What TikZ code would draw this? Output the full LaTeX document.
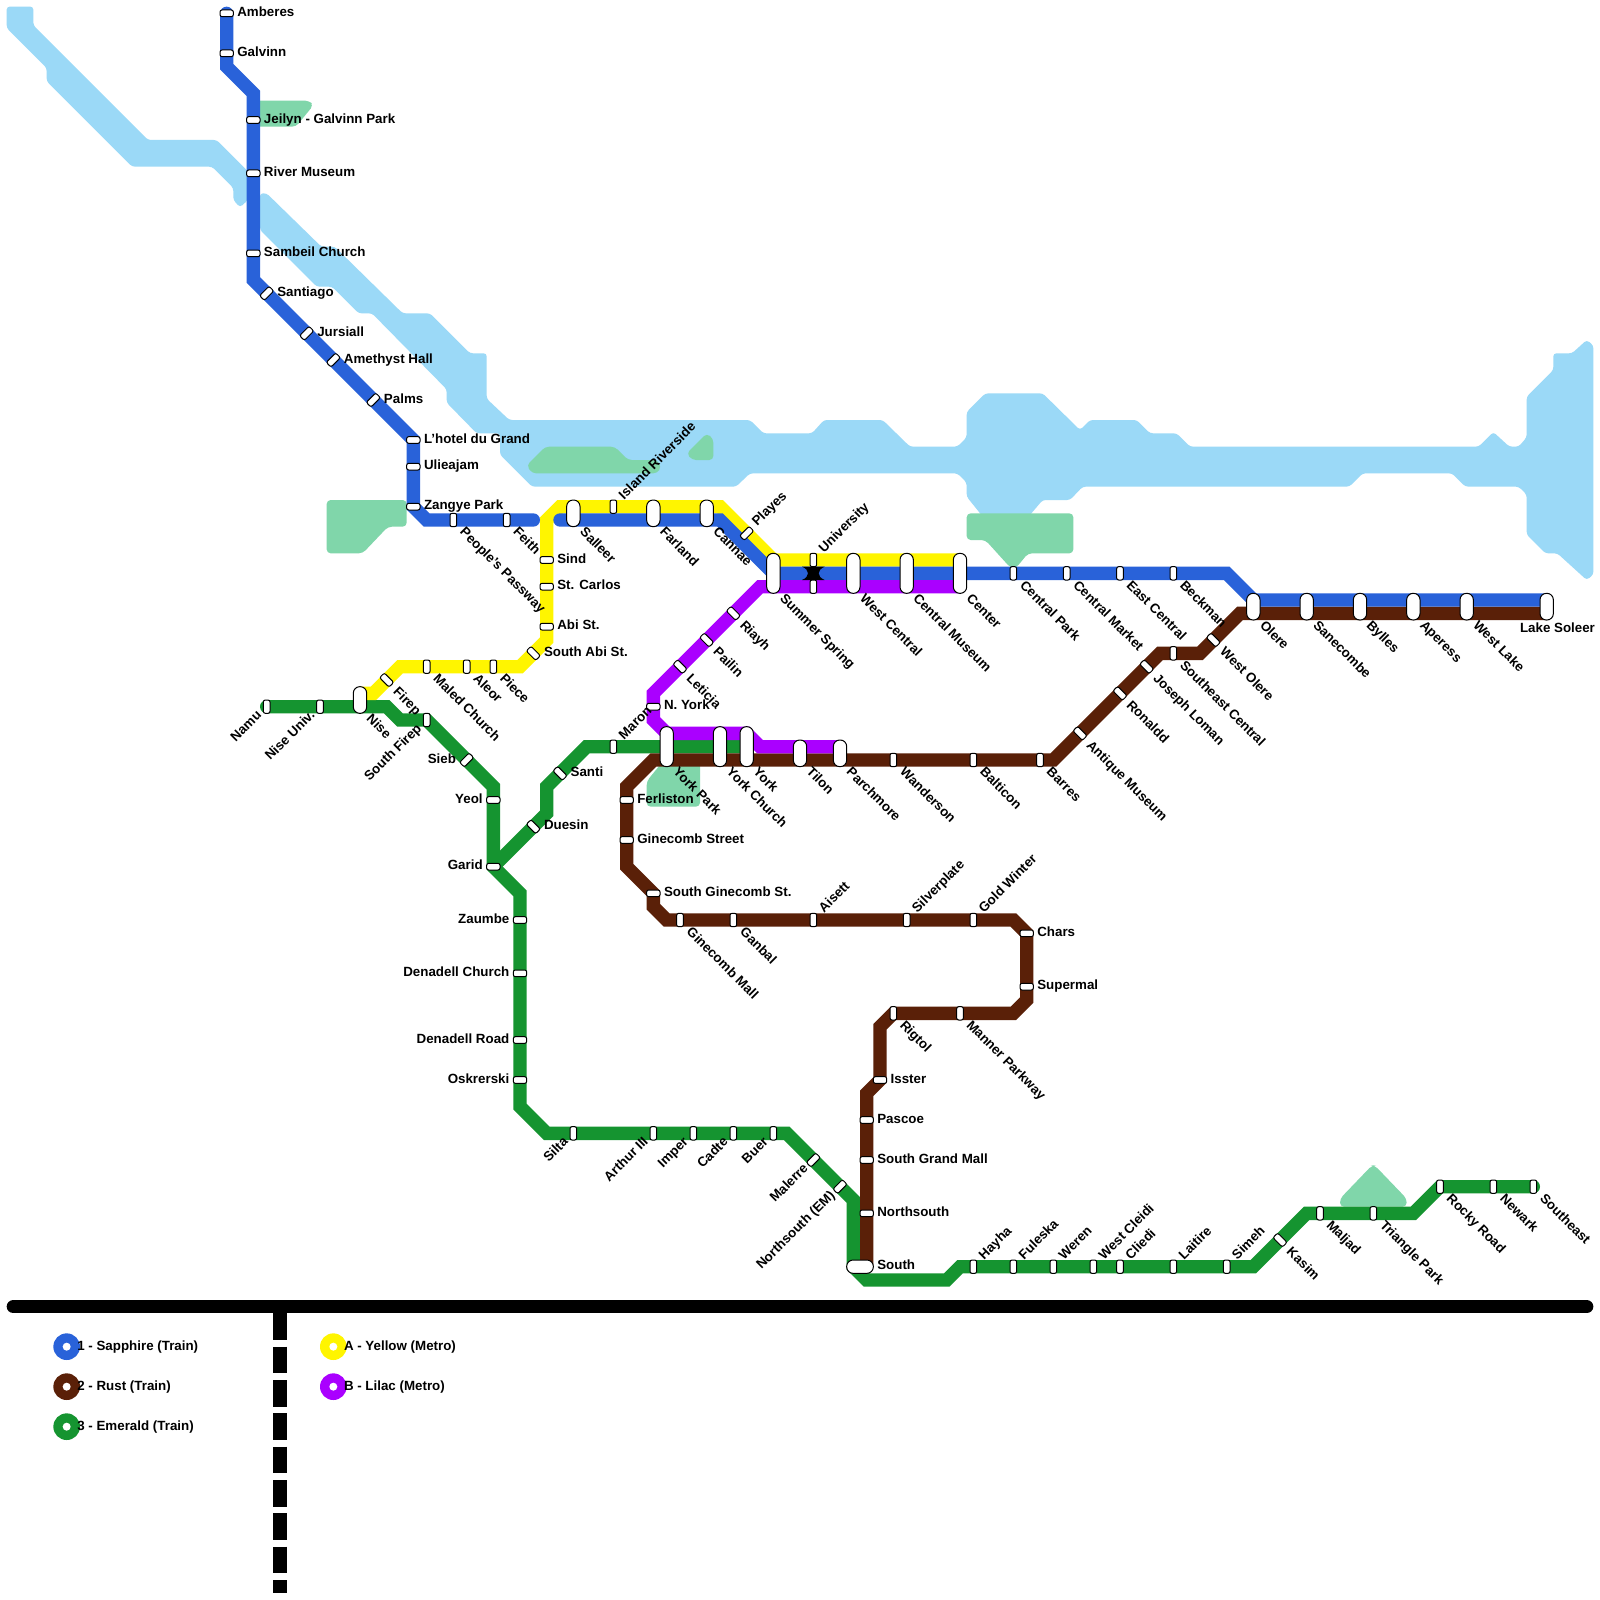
\documentclass[tikz,border=0pt]{standalone}
\usepackage{fontspec}
\setmainfont{Liberation Sans}[BoldFont={Liberation Sans Bold}]
\pgfdeclarelayer{bg}
\pgfsetlayers{bg,main}
\definecolor{cWater}{HTML}{9BD9F7}
\definecolor{cPark}{HTML}{80D6AA}
\definecolor{cBlue}{HTML}{2962D9}
\definecolor{cRust}{HTML}{5A2008}
\definecolor{cEmer}{HTML}{159430}
\definecolor{cYell}{HTML}{FFF500}
\definecolor{cLila}{HTML}{AA00FF}
\tikzset{
  water/.style={fill=cWater,draw=none,rounded corners=1.5pt},
  park/.style={fill=cPark,draw=none,rounded corners=2pt},
  rail/.style={line width=6.667pt,line cap=round,line join=miter},
  stBase/.style={draw=black,fill=white,line width=.5pt,inner sep=0pt,outer sep=0pt,rectangle},
  stH/.style={stBase,minimum width=6.667pt,minimum height=3.333pt,rounded corners=1pt},
  stV/.style={stBase,minimum width=3.333pt,minimum height=6.667pt,rounded corners=1pt},
  stA/.style={stH,rotate=45},
  stB/.style={stH,rotate=-45},
  pill/.style={stBase,minimum width=6.667pt,rounded corners=3.2pt},
  lbl/.style={font=\fontsize{6.67pt}{7pt}\selectfont\bfseries,inner sep=0pt,outer sep=0pt,text height=4.8pt,text depth=0pt,text=black},
  lbR/.style={lbl,xshift=5.33pt,yshift=.75pt,anchor=west},
  lbL/.style={lbl,xshift=-5.33pt,yshift=.75pt,anchor=east},
  lbD/.style={lbl,xshift=4.67pt,yshift=-4.67pt,rotate=-45,anchor=west},
  lbU/.style={lbl,xshift=3.67pt,yshift=5pt,rotate=45,anchor=west},
  lbB/.style={lbl,xshift=-4pt,yshift=-3pt,rotate=45,anchor=east},
  lbS/.style={lbl,xshift=-13.33pt,yshift=-7.33pt,anchor=west},
  lgtx/.style={lbl,anchor=west},
}
\newcommand\St[5]{%
  \coordinate (#1) at (#2);
  \node[#3] (s#1) at (#1) {};
  \node[#4] (l#1) at (#1) {#5};
}
\newcommand\Pl[6]{%
  \coordinate (#1t) at (#2,#3);
  \coordinate (#1b) at (#2,#4);
  \coordinate (#1m) at (#2,{(#3+#4)/2});
  \node[pill,minimum height={(#4-#3+1)*6.6667pt}] (s#1) at (#1m) {};
  \node[#5] (l#1) at (#1b) {#6};
}
\begin{document}
\begin{tikzpicture}[x=6.66667pt,y=-6.66667pt]
\useasboundingbox (0,0) rectangle (120,120);
\begin{pgfonlayer}{bg}
\fill[white] (0,0) rectangle (120,120);
% water
\fill[water] (0.5,0.5) -- (2.5,0.5) -- (2.5,1.9) -- (11.1,10.5) -- (16.25,10.5) -- (18.6,12.85) -- (18.6,15) -- (18,15.55) -- (17.5,15) -- (17.5,14.1) -- (15.9,12.5) -- (9.9,12.5) -- (3.5,6.1) -- (3.5,5.1) -- (0.5,2.1) -- cycle;
\fill[water] (19.5,14.5) -- (20,14.5) -- (24.1,18.5) -- (25.1,18.5) -- (30.2,23.5) -- (32.25,23.5) -- (35.25,26.5) -- (36.5,26.5) -- (36.5,29.9) -- (38.2,31.5) -- (56.25,31.5) -- (57.25,32.5) -- (60.9,32.5) -- (61.8,31.5) -- (66.2,31.5) -- (68.25,33.5) -- (71.8,33.5) -- (72.5,32.8) -- (72.5,30.9) -- (73.9,29.5) -- (78.2,29.5) -- (81,32.25) -- (81.75,31.5) -- (85.25,31.5) -- (86.25,32.5) -- (88.25,32.5) -- (89.25,33.5) -- (110.9,33.5) -- (112,32.4) -- (113.2,33.5) -- (113.9,33.5) -- (114.5,32.8) -- (114.5,29.75) -- (116.5,27.75) -- (116.5,26.5) -- (117.9,26.5) -- (119,25.5) -- (119.5,25.9) -- (119.5,43.1) -- (119,43.5) -- (116.8,41.5) -- (115.9,41.5) -- (114.5,40.1) -- (114.5,37.1) -- (113.9,36.5) -- (109.9,36.5) -- (108.9,35.5) -- (102.2,35.5) -- (101.2,36.5) -- (81.2,36.5) -- (80.25,37.5) -- (78.2,37.5) -- (77.1,38.8) -- (73.75,38.8) -- (72.5,37.25) -- (72.5,36.2) -- (71.8,35.5) -- (56.25,35.5) -- (55.2,36.5) -- (39.9,36.5) -- (37.5,34.1) -- (37.5,32.5) -- (35.75,32.5) -- (33.5,30.2) -- (33.5,29.2) -- (27.9,23.5) -- (26.9,23.5) -- (24.9,21.5) -- (23.75,21.5) -- (19.5,17.25) -- cycle;
% parks
\fill[park] (19,7.55) -- (23.2,7.55) -- (23.5,7.9) -- (22.2,9.5) -- (19,9.5) -- cycle;
\fill[park] (24.5,37.5) -- (30.5,37.5) -- (30.5,39.5) -- (29.1,39.5) -- (27.2,41.5) -- (24.5,41.5) -- cycle;
\fill[park] (39.5,34.9) -- (40.9,33.5) -- (46.1,33.5) -- (47.1,34.5) -- (49.3,34.5) -- (49.6,35) -- (49.3,35.5) -- (39.9,35.5) -- cycle;
\fill[park] (51.5,34) -- (53,32.5) -- (53.5,32.9) -- (53.5,34.5) -- (51.9,34.5) -- cycle;
\fill[park] (72.5,38.5) -- (80.5,38.5) -- (80.5,41.5) -- (77.1,41.5) -- (76.2,42.6) -- (75.8,42.6) -- (73.9,40.5) -- (72.5,40.5) -- cycle;
\fill[park] (49.8,57) -- (52.5,57) -- (52.5,60.5) -- (48.5,60.5) -- (48.5,58.6) -- cycle;
\fill[park] (102.9,87.4) -- (103.1,87.4) -- (105.5,89.9) -- (105.5,90.5) -- (100.5,90.5) -- (100.5,89.9) -- cycle;
\end{pgfonlayer}

% sapphire stations
\St{ambe}{17,1}{stH}{lbR}{Amberes}
\St{galv}{17,4}{stH}{lbR}{Galvinn}
\St{jeil}{19,9}{stH}{lbR}{Jeilyn - Galvinn Park}
\St{rivm}{19,13}{stH}{lbR}{River Museum}
\St{samb}{19,19}{stH}{lbR}{Sambeil Church}
\St{sant}{20,22}{stA}{lbR}{Santiago}
\St{jurs}{23,25}{stA}{lbR}{Jursiall}
\St{amet}{25,27}{stA}{lbR}{Amethyst Hall}
\St{palm}{28,30}{stA}{lbR}{Palms}
\St{lhot}{31,33}{stH}{lbR}{L'hotel du Grand}
\St{ulie}{31,35}{stH}{lbR}{Ulieajam}
\St{zang}{31,38}{stH}{lbR}{Zangye Park}
\St{peop}{34,39}{stV}{lbD}{People's Passway}
\St{feit}{38,39}{stV}{lbD}{Feith}
\coordinate (blueEnd) at (40,39);
\coordinate (blueStart) at (42,39);
\Pl{sall}{43}{38}{39}{lbD}{Salleer}
\St{isla}{46,38}{stV}{lbU}{Island Riverside}
\Pl{farl}{49}{38}{39}{lbD}{Farland}
\Pl{cann}{53}{38}{39}{lbD}{Cannae}
\St{play}{56,40}{stA}{lbU}{Playes}
\Pl{summ}{58}{42}{44}{lbD}{Summer Spring}
% University interchange
\fill[black] (60.15,42.5) -- (61.85,42.5) .. controls (61.25,42.75) and (61.25,43.25) .. (61.85,43.5) -- (60.15,43.5) .. controls (60.75,43.25) and (60.75,42.75) .. (60.15,42.5) -- cycle;
\St{univ}{61,42}{stV}{lbU}{University}
\coordinate (univb) at (61,44);
\node[stV] (sunivb) at (univb) {};
\Pl{wcen}{64}{42}{44}{lbD}{West Central}
\Pl{cmus}{68}{42}{44}{lbD}{Central Museum}
\Pl{cent}{72}{42}{44}{lbD}{Center}
\St{cpar}{76,43}{stV}{lbD}{Central Park}
\St{cmar}{80,43}{stV}{lbD}{Central Market}
\St{ecen}{84,43}{stV}{lbD}{East Central}
\St{beck}{88,43}{stV}{lbD}{Beckman}
\Pl{oler}{94}{45}{46}{lbD}{Olere}
\Pl{sane}{98}{45}{46}{lbD}{Sanecombe}
\Pl{byll}{102}{45}{46}{lbD}{Bylles}
\Pl{aper}{106}{45}{46}{lbD}{Aperess}
\Pl{wlak}{110}{45}{46}{lbD}{West Lake}
\Pl{lake}{116}{45}{46}{lbS}{Lake Soleer}
% yellow
\Pl{nise}{27}{52}{53}{lbD}{Nise}
\St{fire}{29,51}{stB}{lbD}{Firep}
\St{mlch}{32,50}{stV}{lbD}{Maled Church}
\St{aleo}{35,50}{stV}{lbD}{Aleor}
\St{piec}{37,50}{stV}{lbD}{Piece}
\St{sabi}{40,49}{stB}{lbR}{South Abi St.}
\St{abis}{41,47}{stH}{lbR}{Abi St.}
\St{stca}{41,44}{stH}{lbR}{St. Carlos}
\St{sind}{41,42}{stH}{lbR}{Sind}
% lilac
\St{riay}{55,46}{stB}{lbD}{Riayh}
\St{pail}{53,48}{stB}{lbD}{Pailin}
\St{leti}{51,50}{stB}{lbD}{Leticia}
\St{nyor}{49,53}{stH}{lbR}{N. York}
\Pl{yorp}{50}{55}{57}{lbD}{York Park}
\Pl{yorc}{54}{55}{57}{lbD}{York Church}
\Pl{york}{56}{55}{57}{lbD}{York}
\Pl{tilo}{60}{56}{57}{lbD}{Tilon}
\Pl{parc}{63}{56}{57}{lbD}{Parchmore}
% rust
\St{wand}{67,57}{stV}{lbD}{Wanderson}
\St{balt}{73,57}{stV}{lbD}{Balticon}
\St{barr}{78,57}{stV}{lbD}{Barres}
\St{anti}{81,55}{stB}{lbD}{Antique Museum}
\St{rona}{84,52}{stB}{lbD}{Ronaldd}
\St{jose}{86,50}{stB}{lbD}{Joseph Loman}
\St{seas}{88,49}{stV}{lbD}{Southeast Central}
\St{wole}{91,48}{stB}{lbD}{West Olere}
\St{ferl}{47,60}{stH}{lbR}{Ferliston}
\St{gine}{47,63}{stH}{lbR}{Ginecomb Street}
\St{sgin}{49,67}{stH}{lbR}{South Ginecomb St.}
\St{gmal}{51,69}{stV}{lbD}{Ginecomb Mall}
\St{ganb}{55,69}{stV}{lbD}{Ganbal}
\St{aise}{61,69}{stV}{lbU}{Aisett}
\St{silv}{68,69}{stV}{lbU}{Silverplate}
\St{gold}{73,69}{stV}{lbU}{Gold Winter}
\St{char}{77,70}{stH}{lbR}{Chars}
\St{supe}{77,74}{stH}{lbR}{Supermal}
\St{mann}{72,76}{stV}{lbD}{Manner Parkway}
\St{rigt}{67,76}{stV}{lbD}{Rigtol}
\St{isst}{66,81}{stH}{lbR}{Isster}
\St{pasc}{65,84}{stH}{lbR}{Pascoe}
\St{sgma}{65,87}{stH}{lbR}{South Grand Mall}
\St{nort}{65,91}{stH}{lbR}{Northsouth}
\coordinate (southL) at (64,95);
\coordinate (southR) at (65,95);
\node[stBase,minimum width=13.333pt,minimum height=6.667pt,rounded corners=3.2pt] (ssouth) at (64.5,95) {};
\node[lbR] (lsouth) at (southR) {South};
% emerald
\St{namu}{20,53}{stV}{lbB}{Namu}
\St{nuni}{24,53}{stV}{lbB}{Nise Univ.}
\St{sfir}{32,54}{stV}{lbB}{South Firep}
\St{sieb}{35,57}{stA}{lbL}{Sieb}
\St{yeol}{37,60}{stH}{lbL}{Yeol}
\St{gari}{37,65}{stH}{lbL}{Garid}
\St{zaum}{39,69}{stH}{lbL}{Zaumbe}
\St{dchu}{39,73}{stH}{lbL}{Denadell Church}
\St{droa}{39,78}{stH}{lbL}{Denadell Road}
\St{oskr}{39,81}{stH}{lbL}{Oskrerski}
\St{silt}{43,85}{stV}{lbB}{Silta}
\St{arth}{49,85}{stV}{lbB}{Arthur III}
\St{impe}{52,85}{stV}{lbB}{Imper}
\St{cadt}{55,85}{stV}{lbB}{Cadte}
\St{buer}{58,85}{stV}{lbB}{Buer}
\St{mler}{61,87}{stA}{lbB}{Malerre}
\St{nsem}{63,89}{stA}{lbB}{Northsouth (EM)}
\St{hayh}{73,95}{stV}{lbU}{Hayha}
\St{fule}{76,95}{stV}{lbU}{Fuleska}
\St{were}{79,95}{stV}{lbU}{Weren}
\St{wcle}{82,95}{stV}{lbU}{West Cleidi}
\St{clie}{84,95}{stV}{lbU}{Cliedi}
\St{lait}{88,95}{stV}{lbU}{Laitire}
\St{sime}{92,95}{stV}{lbU}{Simeh}
\St{kasi}{96,93}{stB}{lbD}{Kasim}
\St{malj}{99,91}{stV}{lbD}{Maljad}
\St{tria}{103,91}{stV}{lbD}{Triangle Park}
\St{rock}{108,89}{stV}{lbD}{Rocky Road}
\St{newa}{112,89}{stV}{lbD}{Newark}
\St{seat}{115,89}{stV}{lbD}{Southeast}
\St{dues}{40,62}{stB}{lbR}{Duesin}
\St{sant2}{42,58}{stB}{lbR}{Santi}
\St{maro}{46,56}{stV}{lbU}{Maron}

% lines
\begin{pgfonlayer}{bg}
\draw[rail,cEmer] (gari) -- (41,61) -- (41,59) -- (44,56) -- (yorkm);
\draw[rail,cEmer] (namu) -- (29,53) -- (30,54) -- (sfir) -- (37,59) -- (gari) -- (39,67) -- (39,83) -- (41,85) -- (59,85) -- (64,90) -- (southL) -- (65,96) -- (71,96) -- (72,95) -- (94,95) -- (98,91) -- (106,91) -- (108,89) -- (seat);
\draw[rail,cRust] (lakeb) -- (93,46) -- (90,49) -- (87,49) -- (79,57) -- (49,57) -- (47,59) -- (47,65) -- (49,67) -- (49,68) -- (50,69) -- (76,69) -- (77,70) -- (77,75) -- (76,76) -- (67,76) -- (66,77) -- (66,81) -- (65,82) -- (southR);
\draw[rail,cYell] (niset) -- (28,52) -- (30,50) -- (39,50) -- (41,48) -- (41,39) -- (42,38) -- (54,38) -- (58,42) -- (centt);
\draw[rail,cBlue] (ambe) -- (17,5) -- (19,7) -- (19,21) -- (lhot) -- (zang) -- (32,39) -- (blueEnd);
\draw[rail,cBlue] (blueStart) -- (54,39) -- (58,43) -- (92,43) -- (94,45) -- (laket);
\draw[rail,cLila] (parct) -- (57,56) -- (56,55) -- (50,55) -- (49,54) -- (49,52) -- (57,44) -- (centb);
\end{pgfonlayer}

% separators
\coordinate (barL) at (1,98);
\coordinate (barR) at (119,98);
\draw[line width=6.667pt,line cap=round,black] (barL) -- (barR);
\coordinate (divT) at (21,98.5);
\coordinate (divB) at (21,119.5);
\draw[line width=6.667pt,black,dash pattern=on 13.333pt off 3.333pt] (divT) -- (divB);

% legend
\foreach \nm/\px/\py/\colr/\txt/\tx in {
  la/5/101/cBlue/{1 - Sapphire (Train)}/5.8,
  lb/5/104/cRust/{2 - Rust (Train)}/5.8,
  lc/5/107/cEmer/{3 - Emerald (Train)}/5.8,
  ld/25/101/cYell/{A - Yellow (Metro)}/25.8,
  le/25/104/cLila/{B - Lilac (Metro)}/25.8}{
  \node[circle,fill=\colr,minimum size=13.333pt,inner sep=0pt] (\nm) at (\px,\py) {};
  \node[circle,fill=white,minimum size=4pt,inner sep=0pt] (\nm i) at (\nm) {};
  \node[lgtx] (\nm t) at (\tx,\py-.1) {\txt};
}
\end{tikzpicture}
\end{document}
